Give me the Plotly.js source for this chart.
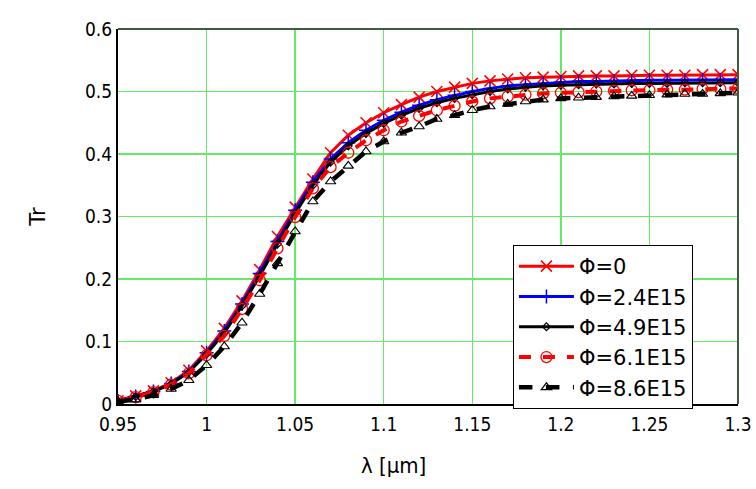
<!DOCTYPE html>
<html>
<head>
<meta charset="utf-8">
<script src="https://cdn.plot.ly/plotly-3.0.1.min.js"></script>
<style>html,body{margin:0;padding:0;background:#fff;}#chart{width:756px;height:489px;}</style>
</head>
<body>
<div id="chart"></div>
<script>
const wavelength = [0.95,0.96,0.97,0.98,0.99,1.00,1.01,1.02,1.03,1.04,1.05,1.06,1.07,1.08,1.09,1.10,1.11,1.12,1.13,1.14,1.15,1.16,1.17,1.18,1.19,1.20,1.21,1.22,1.23,1.24,1.25,1.26,1.27,1.28,1.29,1.30];
const tr_phi0   = [0.005,0.013,0.021,0.034,0.054,0.085,0.121,0.165,0.215,0.268,0.315,0.360,0.402,0.430,0.450,0.466,0.479,0.491,0.500,0.507,0.513,0.517,0.520,0.522,0.523,0.524,0.525,0.525,0.525,0.526,0.526,0.526,0.526,0.527,0.527,0.527];
const tr_phi2_4 = [0.005,0.012,0.020,0.033,0.052,0.082,0.117,0.160,0.209,0.260,0.310,0.355,0.392,0.418,0.438,0.454,0.467,0.478,0.487,0.494,0.500,0.505,0.509,0.511,0.513,0.515,0.516,0.516,0.517,0.517,0.518,0.518,0.518,0.519,0.519,0.519];
const tr_phi4_9 = [0.005,0.012,0.020,0.032,0.051,0.080,0.114,0.157,0.205,0.256,0.305,0.350,0.387,0.413,0.433,0.449,0.462,0.473,0.482,0.489,0.495,0.500,0.504,0.507,0.509,0.510,0.511,0.512,0.512,0.513,0.513,0.513,0.514,0.514,0.514,0.514];
const tr_phi6_1 = [0.005,0.011,0.019,0.031,0.049,0.078,0.109,0.152,0.198,0.249,0.299,0.345,0.379,0.402,0.422,0.438,0.452,0.461,0.470,0.477,0.484,0.489,0.492,0.495,0.497,0.498,0.499,0.500,0.501,0.502,0.502,0.503,0.503,0.504,0.504,0.505];
const tr_phi8_6 = [0.004,0.007,0.014,0.024,0.038,0.062,0.092,0.130,0.176,0.225,0.276,0.324,0.356,0.381,0.404,0.420,0.434,0.444,0.456,0.462,0.470,0.476,0.480,0.484,0.487,0.489,0.490,0.491,0.492,0.493,0.494,0.495,0.496,0.496,0.497,0.498];
const seriesNames = ['Φ=0','Φ=2.4E15','Φ=4.9E15','Φ=6.1E15','Φ=8.6E15'];
const xTickVals = [0.95,1.0,1.05,1.1,1.15,1.2,1.25,1.3];
const xTickText = ['0.95','1','1.05','1.1','1.15','1.2','1.25','1.3'];
const yTickVals = [0,0.1,0.2,0.3,0.4,0.5,0.6];
const yTickText = ['0','0.1','0.2','0.3','0.4','0.5','0.6'];
const xTitle = 'λ [μm]';
const yTitle = 'Tr';

const FONT = '"DejaVu Sans Condensed", "DejaVu Sans", Verdana, sans-serif';
const FONT_WIDE = '"DejaVu Sans", Verdana, sans-serif';

const traces = [
  {y: tr_phi0, name: seriesNames[0], line:{color:'#ff0000', width:3}, marker:{symbol:'x-thin', size:11, color:'#ff0000', line:{width:1.5, color:'#ff0000'}}},
  {y: tr_phi2_4, name: seriesNames[1], line:{color:'#0000ff', width:3}, marker:{symbol:'cross-thin', size:10, color:'#0000ff', line:{width:1.5, color:'#0000ff'}}},
  {y: tr_phi4_9, name: seriesNames[2], line:{color:'#000000', width:3}, marker:{symbol:'diamond-open', size:6, color:'#000000', line:{width:1.2}}},
  {y: tr_phi6_1, name: seriesNames[3], line:{color:'#ff0000', width:4, dash:'dash'}, marker:{symbol:'circle-open', size:11, color:'#ff0000', line:{width:1.3}}},
  {y: tr_phi8_6, name: seriesNames[4], line:{color:'#000000', width:4.5, dash:'dash'}, marker:{symbol:'triangle-up-open', size:9, color:'#000000', line:{width:1.2}}}
].map(t => Object.assign({x: wavelength, type:'scatter', mode:'lines+markers'}, t));

const layout = {
  width:756, height:489,
  margin:{l:118, r:18, t:29, b:85},
  paper_bgcolor:'#ffffff', plot_bgcolor:'#ffffff',
  font:{family:FONT, size:19, color:'#000'},
  showlegend:true,
  legend:{x:0.637, y:0.424, xanchor:'left', yanchor:'top', bgcolor:'#ffffff', bordercolor:'#000', borderwidth:1, font:{family:FONT_WIDE, size:21}, itemwidth:55, tracegroupgap:0},
  xaxis:{range:[0.95,1.3], tickvals:xTickVals, ticktext:xTickText, showgrid:true, gridcolor:'rgb(100,235,100)', gridwidth:1.5, zeroline:false, showline:true, linecolor:'#000', linewidth:2, ticks:'', ticklabelstandoff:2, tickfont:{family:FONT, size:19}},
  yaxis:{range:[0,0.6], tickvals:yTickVals, ticktext:yTickText, showgrid:true, gridcolor:'rgb(100,235,100)', gridwidth:1.5, zeroline:false, showline:true, linecolor:'#000', linewidth:2, ticks:'', tickfont:{family:FONT, size:19}, title:{text:yTitle, font:{family:FONT_WIDE, size:21}, standoff:34}},
  annotations:[
    {text:xTitle, xref:'paper', yref:'paper', x:0.445, y:-0.163, xanchor:'center', yanchor:'middle', showarrow:false, font:{family:FONT, size:22}}
  ],
  shapes:[
    {type:'line', xref:'paper', yref:'paper', x0:0, x1:1, y0:1, y1:1, line:{color:'#3d5c3d', width:2}},
    {type:'line', xref:'paper', yref:'paper', x0:1, x1:1, y0:0, y1:1, line:{color:'#3d5c3d', width:2}}
  ]
};

Plotly.newPlot('chart', traces, layout, {staticPlot:true, displayModeBar:false});
</script>
</body>
</html>
